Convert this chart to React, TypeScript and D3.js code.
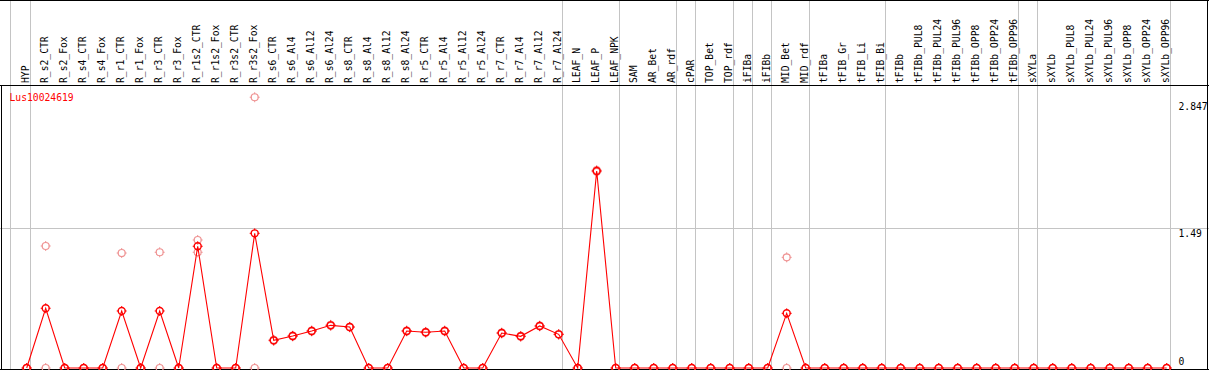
import React from 'react';
import * as d3 from 'd3';

const W = 1209;
const H = 370;

const groups: string[][] = [
  ['HYP'],
  ['R_s2_CTR', 'R_s2_Fox', 'R_s4_CTR', 'R_s4_Fox', 'R_r1_CTR', 'R_r1_Fox', 'R_r3_CTR', 'R_r3_Fox',
   'R_r1s2_CTR', 'R_r1s2_Fox', 'R_r3s2_CTR', 'R_r3s2_Fox', 'R_s6_CTR', 'R_s6_Al4', 'R_s6_Al12', 'R_s6_Al24',
   'R_s8_CTR', 'R_s8_Al4', 'R_s8_Al12', 'R_s8_Al24', 'R_r5_CTR', 'R_r5_Al4', 'R_r5_Al12', 'R_r5_Al24',
   'R_r7_CTR', 'R_r7_Al4', 'R_r7_Al12', 'R_r7_Al24'],
  ['LEAF_N', 'LEAF_P', 'LEAF_NPK'],
  ['SAM', 'AR_Bet', 'AR_rdf'],
  ['cPAR'],
  ['TOP_Bet', 'TOP_rdf'],
  ['iFIBa'],
  ['iFIBb'],
  ['MID_Bet', 'MID_rdf'],
  ['tFIBa', 'tFIB_Gr', 'tFIB_Li', 'tFIB_Bi'],
  ['tFIBb', 'tFIBb_PUL8', 'tFIBb_PUL24', 'tFIBb_PUL96', 'tFIBb_OPP8', 'tFIBb_OPP24', 'tFIBb_OPP96'],
  ['sXYLa'],
  ['sXYLb', 'sXYLb_PUL8', 'sXYLb_PUL24', 'sXYLb_PUL96', 'sXYLb_OPP8', 'sXYLb_OPP24', 'sXYLb_OPP96'],
];
const categories: string[] = groups.flat();

// mean expression (red line)
const meanValues: number[] = [
  0,
  0.637, 0, 0, 0, 0.608, 0, 0.608, 0,
  1.298, 0, 0, 1.436, 0.295, 0.341, 0.395, 0.455,
  0.437, 0, 0, 0.395, 0.381, 0.395, 0, 0,
  0.373, 0.338, 0.448, 0.359,
  0, 2.101, 0,
  0, 0, 0,
  0,
  0, 0,
  0,
  0,
  0.583, 0,
  0, 0, 0, 0,
  0, 0, 0, 0, 0, 0, 0,
  0,
  0, 0, 0, 0, 0, 0, 0,
];

// replicate values (pale circles)
const rep1: number[] = [
  0,
  1.301, 0, 0, 0, 1.226, 0, 1.234, 0,
  1.365, 0, 0, 2.887, 0.3, 0.345, 0.4, 0.46,
  0.44, 0, 0, 0.4, 0.385, 0.4, 0, 0,
  0.378, 0.342, 0.452, 0.362,
  0, 2.11, 0,
  0, 0, 0,
  0,
  0, 0,
  0,
  0,
  1.18, 0,
  0, 0, 0, 0,
  0, 0, 0, 0, 0, 0, 0,
  0,
  0, 0, 0, 0, 0, 0, 0,
];
const rep2: number[] = [
  0,
  0, 0, 0, 0, 0, 0, 0, 0,
  1.234, 0, 0, 0, 0.29, 0.337, 0.39, 0.45,
  0.434, 0, 0, 0.39, 0.377, 0.39, 0, 0,
  0.368, 0.334, 0.444, 0.356,
  0, 2.092, 0,
  0, 0, 0,
  0,
  0, 0,
  0,
  0,
  0, 0,
  0, 0, 0, 0,
  0, 0, 0, 0, 0, 0, 0,
  0,
  0, 0, 0, 0, 0, 0, 0,
];

const tickValues: number[] = [0, 1.49, 2.847];
const tickLabels: string[] = ['0', '1.49', '2.847'];
const gridValues: number[] = [1.49];
const geneLabel = 'Lus10024619';

const FONT = '"DejaVu Sans Mono", "Liberation Mono", monospace';
const FS = 9.7;
const RED = '#ff0000';
const PALE = '#ef9494';
const GRID = '#c4c4c4';

function Marker({ cx, cy, color, sw }: { cx: number; cy: number; color: string; sw: number }) {
  const r = 3.5;
  return (
    <g stroke={color} fill="none">
      <circle cx={cx} cy={cy} r={r} strokeWidth={sw} />
      <line x1={cx} x2={cx} y1={cy - r - 1.5} y2={cy - r + 0.5} strokeWidth={1} />
      <line x1={cx} x2={cx} y1={cy + r - 0.5} y2={cy + r + 1.5} strokeWidth={1} />
      <line x1={cx - r - 1.5} x2={cx - r + 0.5} y1={cy} y2={cy} strokeWidth={1} />
      <line x1={cx + r - 0.5} x2={cx + r + 1.5} y1={cy} y2={cy} strokeWidth={1} />
    </g>
  );
}

export default function App() {
  const x = d3.scalePoint<string>().domain(categories).range([26.7, 1166.7]);
  const y = d3.scaleLinear().domain([0, 2.847]).range([368, 101]);
  const px = (c: string) => x(c) as number;

  const line = d3
    .line<number>()
    .x((_, i) => px(categories[i]))
    .y((d) => y(d));

  // group separators: before each group, and after the last one
  const seps: number[] = [];
  groups.forEach((g, gi) => {
    const first = px(g[0]);
    seps.push(gi === 0 ? first - 16.5 : first - 15.5);
  });
  seps.push(px(categories[categories.length - 1]) + 3.5);

  return (
    <svg
      width={W}
      height={H}
      style={{ position: 'absolute', left: 0, top: 0, background: '#fff' }}
    >
      <rect x={0} y={0} width={W} height={H} fill="#fff" />
      {/* vertical separators */}
      {seps.map((s, i) => (
        <line key={'s' + i} x1={Math.round(s) + 0.5} x2={Math.round(s) + 0.5} y1={0} y2={H}
          stroke={GRID} strokeWidth={1} shapeRendering="crispEdges" />
      ))}
      {/* horizontal grid */}
      {gridValues.map((v, i) => (
        <line key={'g' + i} x1={0} x2={W} y1={Math.round(y(v)) + 0.5} y2={Math.round(y(v)) + 0.5}
          stroke={GRID} strokeWidth={1} shapeRendering="crispEdges" />
      ))}
      {/* frame */}
      <g stroke="#000" strokeWidth={1} shapeRendering="crispEdges">
        <line x1={0} x2={W} y1={0.5} y2={0.5} />
        <line x1={0} x2={W} y1={85.5} y2={85.5} />
        <line x1={0} x2={W} y1={369.5} y2={369.5} />
        <line x1={1.5} x2={1.5} y1={85} y2={H} />
        <line x1={1207.5} x2={1207.5} y1={0} y2={H} />
      </g>
      {/* column labels */}
      <g fontFamily={FONT} fontSize={FS} fill="#000">
        {categories.map((c) => (
          <text key={c} transform={`translate(${px(c) + 2.6},83) rotate(-90)`} textAnchor="start">
            {c}
          </text>
        ))}
      </g>
      {/* y tick labels */}
      <g fontFamily={FONT} fontSize={FS} fill="#000">
        {tickValues.map((v, i) => (
          <text key={'t' + i} x={1178.5} y={Math.min(y(v) + 9, 365)}>
            {tickLabels[i]}
          </text>
        ))}
      </g>
      <text x={9.5} y={101} fontFamily={FONT} fontSize={FS} fill={RED}>
        {geneLabel}
      </text>
      {/* replicates */}
      {[rep1, rep2].map((rep, ri) =>
        rep.map((v, i) => (
          <Marker key={'r' + ri + '-' + i} cx={px(categories[i])} cy={y(v)} color={PALE} sw={1.2} />
        ))
      )}
      {/* mean line */}
      <path d={line(meanValues) || ''} fill="none" stroke={RED} strokeWidth={1.1} />
      {meanValues.map((v, i) => (
        <Marker key={'m' + i} cx={px(categories[i])} cy={y(v)} color={RED} sw={1.4} />
      ))}
    </svg>
  );
}
